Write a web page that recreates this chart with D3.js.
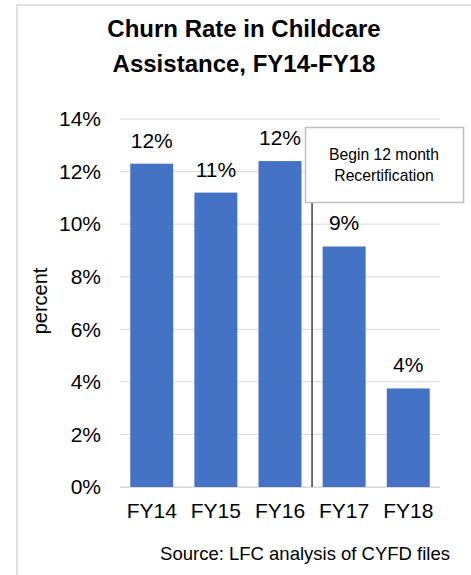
<!DOCTYPE html>
<html>
<head>
<meta charset="utf-8">
<script src="https://cdn.jsdelivr.net/npm/d3@7"></script>
<style>
  body { margin: 0; background: #fff; }
  svg { display: block; font-family: "Liberation Sans", Arial, sans-serif; }
</style>
</head>
<body>
<svg id="chart" width="471" height="575"></svg>
<script>
var years = ["FY14", "FY15", "FY16", "FY17", "FY18"]
var churn = [12.3, 11.2, 12.4, 9.15, 3.75]
var churnLabels = ["12%", "11%", "12%", "9%", "4%"]
var yTicks = [0, 2, 4, 6, 8, 10, 12, 14]
var titleLines = ["Churn Rate in Childcare", "Assistance, FY14-FY18"]
var noteLines = ["Begin 12 month", "Recertification"]

var svg = d3.select("#chart")

// outer frame (left and top only are visible)
svg.append("path")
  .attr("d", "M17,575 V5 H471")
  .attr("fill", "none")
  .attr("stroke", "#d9d9d9")
  .attr("stroke-width", 1.5)

var x = d3.scaleBand().domain(years).range([120, 440]).paddingInner(0.33).paddingOuter(0.16)
var y = d3.scaleLinear().domain([0, 14]).range([487, 119])

// title
svg.append("g").selectAll("text")
  .data(titleLines)
  .join("text")
  .attr("x", 244)
  .attr("y", function (d, i) { return 37 + i * 35 })
  .attr("text-anchor", "middle")
  .style("font-size", "24px")
  .style("font-weight", "bold")
  .text(function (d) { return d })

// gridlines
svg.append("g").selectAll("line")
  .data(yTicks)
  .join("line")
  .attr("x1", 120)
  .attr("x2", 440)
  .attr("y1", function (d) { return y(d) })
  .attr("y2", function (d) { return y(d) })
  .attr("stroke", "#d9d9d9")
  .attr("stroke-width", 1)

// y axis labels
var yAxis = d3.axisLeft(y).tickValues(yTicks).tickSize(0).tickPadding(19)
  .tickFormat(function (d) { return d + "%" })
svg.append("g")
  .attr("transform", "translate(120,0)")
  .call(yAxis)
  .call(function (g) { g.select(".domain").remove() })
  .selectAll("text")
  .style("font-family", "Liberation Sans, Arial, sans-serif")
  .style("font-size", "21px")
  .attr("fill", "#000")

// bars
svg.append("g").selectAll("rect")
  .data(churn)
  .join("rect")
  .attr("x", function (d, i) { return x(years[i]) })
  .attr("y", function (d) { return y(d) })
  .attr("width", x.bandwidth())
  .attr("height", function (d) { return y(0) - y(d) })
  .attr("fill", "#4472c4")

// value labels
svg.append("g").selectAll("text")
  .data(churn)
  .join("text")
  .attr("x", function (d, i) { return x(years[i]) + x.bandwidth() / 2 })
  .attr("y", function (d) { return y(d) - 16 })
  .attr("text-anchor", "middle")
  .style("font-size", "21px")
  .text(function (d, i) { return churnLabels[i] })

// x axis
var xAxis = d3.axisBottom(x).tickSize(0).tickPadding(16)
svg.append("g")
  .attr("transform", "translate(0,487)")
  .call(xAxis)
  .call(function (g) {
    g.select(".domain").attr("stroke", "#d9d9d9").attr("d", "M120,0.5H440")
  })
  .selectAll("text")
  .style("font-family", "Liberation Sans, Arial, sans-serif")
  .style("font-size", "21px")
  .attr("fill", "#000")

// y axis title
svg.append("text")
  .attr("transform", "translate(47,301) rotate(-90)")
  .attr("text-anchor", "middle")
  .style("font-size", "20px")
  .text("percent")

// recertification marker
var markX = (x("FY16") + x.bandwidth() + x("FY17")) / 2
svg.append("line")
  .attr("x1", markX)
  .attr("x2", markX)
  .attr("y1", 202)
  .attr("y2", y(0))
  .attr("stroke", "#404040")
  .attr("stroke-width", 1.5)

svg.append("rect")
  .attr("x", 305.5)
  .attr("y", 127.5)
  .attr("width", 158)
  .attr("height", 75)
  .attr("fill", "#fff")
  .attr("stroke", "#bfbfbf")
  .attr("stroke-width", 1.5)

svg.append("g").selectAll("text")
  .data(noteLines)
  .join("text")
  .attr("x", 384)
  .attr("y", function (d, i) { return 160 + i * 21 })
  .attr("text-anchor", "middle")
  .style("font-size", "15.7px")
  .text(function (d) { return d })

// source note
svg.append("text")
  .attr("x", 450)
  .attr("y", 560)
  .attr("text-anchor", "end")
  .style("font-size", "18.5px")
  .text("Source: LFC analysis of CYFD files")
</script>
</body>
</html>
